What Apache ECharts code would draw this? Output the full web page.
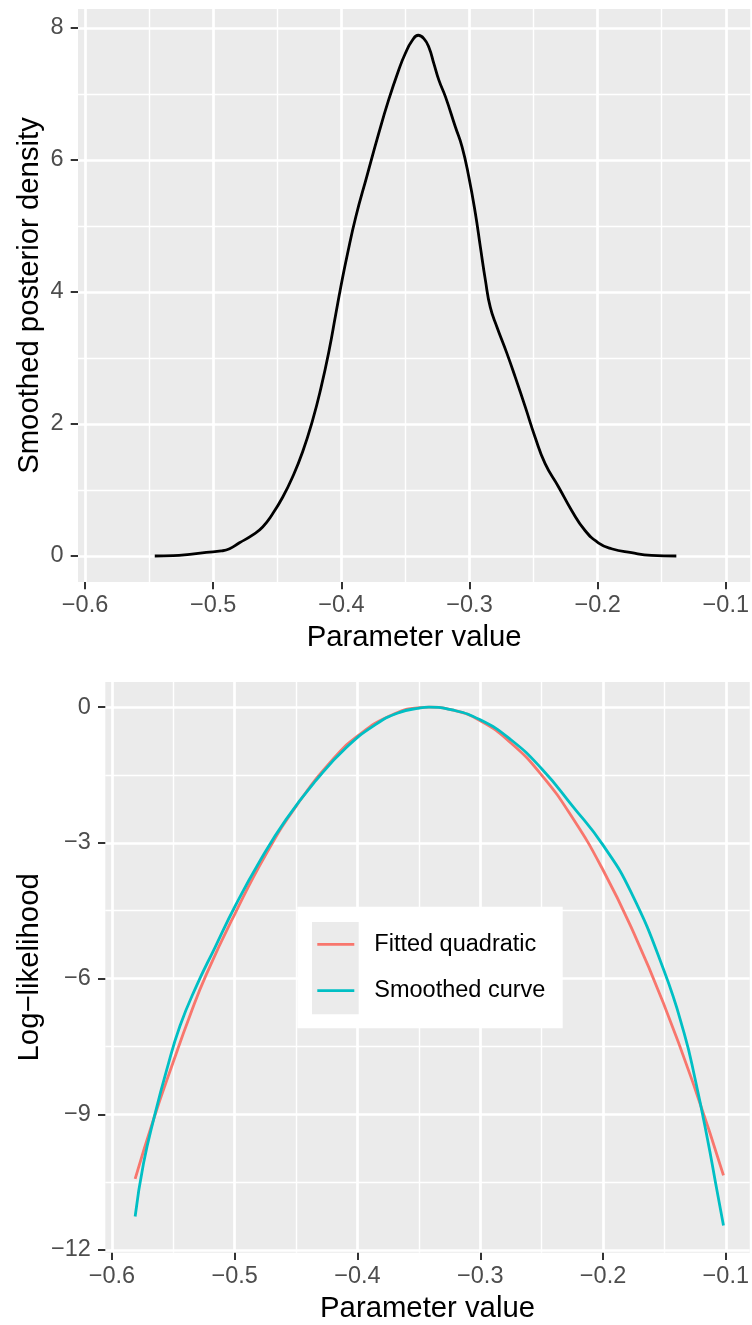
<!DOCTYPE html>
<html>
<head>
<meta charset="utf-8">
<script src="https://cdn.jsdelivr.net/npm/echarts@6/dist/echarts.min.js"></script>
<style>
  html, body { margin: 0; padding: 0; background: #ffffff; }
  #chart { width: 752px; height: 1325px; }
</style>
</head>
<body>
<div id="chart"></div>
<script>
// ---------- data ----------
const densityX = [-0.5456, -0.5313, -0.5183, -0.5054, -0.4937, -0.4872, -0.4795, -0.4691, -0.4614, -0.4536,
  -0.4458, -0.4380, -0.4302, -0.4224, -0.4160, -0.4095, -0.4043, -0.4004, -0.3952, -0.3887,
  -0.3800, -0.3709, -0.3631, -0.3553, -0.3502, -0.3447, -0.3400, -0.3356, -0.3317, -0.3278,
  -0.3239, -0.3188, -0.3110, -0.3058, -0.3006, -0.2954, -0.2915, -0.2876, -0.2838, -0.2786,
  -0.2708, -0.2643, -0.2565, -0.2488, -0.2410, -0.2306, -0.2203, -0.2100, -0.1995, -0.1892,
  -0.1736, -0.1580, -0.1386];
const densityY = [0.000, 0.005, 0.026, 0.056, 0.076, 0.110, 0.200, 0.320, 0.440, 0.640,
  0.890, 1.200, 1.580, 2.060, 2.540, 3.120, 3.670, 4.080, 4.580, 5.140,
  5.760, 6.400, 6.910, 7.360, 7.610, 7.810, 7.890, 7.840, 7.710, 7.460,
  7.210, 6.960, 6.500, 6.200, 5.750, 5.190, 4.680, 4.180, 3.770, 3.470,
  3.070, 2.710, 2.260, 1.800, 1.400, 1.050, 0.690, 0.390, 0.200, 0.110,
  0.050, 0.010, 0.000];

const quadX = [-0.5811, -0.5662, -0.5500, -0.5365, -0.5230, -0.4995, -0.4743, -0.4495, -0.4203, -0.3995,
  -0.3743, -0.3495, -0.3410, -0.3230, -0.3000, -0.2750, -0.2500, -0.2250, -0.2000, -0.1750,
  -0.1500, -0.1250, -0.1019];
const quadY = [-10.43, -9.12, -7.84, -6.82, -5.90, -4.55, -3.24, -2.17, -1.16, -0.63,
  -0.20, -0.01, 0.00, -0.06, -0.30, -0.79, -1.50, -2.44, -3.60, -4.99,
  -6.60, -8.44, -10.35];

const smoothX = [-0.5811, -0.5743, -0.5649, -0.5554, -0.5446, -0.5311, -0.5162, -0.4995, -0.4797, -0.4581,
  -0.4338, -0.4095, -0.3851, -0.3662, -0.3495, -0.3420, -0.3230, -0.3000, -0.2750, -0.2500,
  -0.2250, -0.2000, -0.1770, -0.1500, -0.1340, -0.1250, -0.1149, -0.1081, -0.1019];
const smoothY = [-11.26, -10.09, -8.99, -8.02, -7.05, -6.16, -5.32, -4.39, -3.41, -2.48,
  -1.62, -0.90, -0.38, -0.12, -0.02, 0.00, -0.06, -0.28, -0.72, -1.36,
  -2.18, -3.05, -4.10, -5.85, -7.20, -8.22, -9.55, -10.55, -11.46];

const seriesNames = ['Fitted quadratic', 'Smoothed curve'];

const xTicks = [-0.6, -0.5, -0.4, -0.3, -0.2, -0.1];
const xMinorTicks = [-0.55, -0.45, -0.35, -0.25, -0.15];
const topYTicks = [0, 2, 4, 6, 8];
const topYMinorTicks = [1, 3, 5, 7];
const botYTicks = [0, -3, -6, -9, -12];
const botYMinorTicks = [-1.5, -4.5, -7.5, -10.5];

const topXRange = [-0.6055, -0.0809];
const topYRange = [-0.394, 8.288];
const botXRange = [-0.6054, -0.0805];
const botYRange = [-12.06, 0.557];

// ---------- styles ----------
const FONT = "'Liberation Sans', Arial, Helvetica, sans-serif";
const RED = '#F8766D';
const CYAN = '#00BFC4';
const PANEL = '#EBEBEB';
const TICK_FS = 23.5;
const TITLE_FS = 29.3;

const zip = (xs, ys) => xs.map((x, i) => [x, ys[i]]);
const minusFmt = (digits) => (v) => (v < 0 ? '\u2212' : '') + Math.abs(v).toFixed(digits);

const tickStyle = (vals) => ({ show: true, inside: false, length: 7.3,
  lineStyle: { color: '#333333', width: 2 }, customValues: vals });

function mainAxis(opts) {
  return Object.assign({
    type: 'value',
    nameLocation: 'middle',
    nameMoveOverlap: false,
    nameTextStyle: { fontFamily: FONT, fontSize: TITLE_FS, color: '#000000' },
    axisLine: { show: false, onZero: false },
    splitLine: { show: true, lineStyle: { color: '#FFFFFF', width: 2.7 } },
    minorSplitLine: { show: false }
  }, opts);
}
function minorAxis(opts) {
  return Object.assign({
    type: 'value',
    axisLine: { show: false, onZero: false },
    axisLabel: { show: false },
    splitLine: { show: true, lineStyle: { color: '#FFFFFF', width: 1.4 } }
  }, opts);
}
const labelStyle = (margin, fmt, vals) => ({
  show: true, margin: margin, fontFamily: FONT, fontSize: TICK_FS, color: '#4D4D4D',
  formatter: fmt, customValues: vals, showMinLabel: true, showMaxLabel: true
});

const chart = echarts.init(document.getElementById('chart'), null, { renderer: 'canvas' });

const option = {
  animation: false,
  backgroundColor: '#FFFFFF',
  grid: [
    { left: 78, top: 9, width: 674, height: 573, show: true, backgroundColor: PANEL, borderWidth: 0 },
    { left: 105.3, top: 682, width: 646.7, height: 570.7, show: true, backgroundColor: PANEL, borderWidth: 0 }
  ],
  xAxis: [
    mainAxis({
      gridIndex: 0, position: 'bottom', min: topXRange[0], max: topXRange[1],
      name: 'Parameter value', nameGap: 41,
      axisTick: tickStyle(xTicks),
      axisLabel: labelStyle(11.5, minusFmt(1), xTicks)
    }),
    minorAxis({ gridIndex: 0, position: 'top', min: topXRange[0], max: topXRange[1],
      axisTick: { show: false, customValues: xMinorTicks } }),
    mainAxis({
      gridIndex: 1, position: 'bottom', min: botXRange[0], max: botXRange[1],
      name: 'Parameter value', nameGap: 42,
      axisTick: tickStyle(xTicks),
      axisLabel: labelStyle(12, minusFmt(1), xTicks)
    }),
    minorAxis({ gridIndex: 1, position: 'top', min: botXRange[0], max: botXRange[1],
      axisTick: { show: false, customValues: xMinorTicks } })
  ],
  yAxis: [
    mainAxis({
      gridIndex: 0, position: 'left', min: topYRange[0], max: topYRange[1],
      name: 'Smoothed posterior density', nameGap: 33.5, nameRotate: 90,
      axisTick: tickStyle(topYTicks),
      axisLabel: labelStyle(14.5, minusFmt(0), topYTicks)
    }),
    minorAxis({ gridIndex: 0, position: 'right', min: topYRange[0], max: topYRange[1],
      axisTick: { show: false, customValues: topYMinorTicks } }),
    mainAxis({
      gridIndex: 1, position: 'left', min: botYRange[0], max: botYRange[1],
      name: 'Log\u2212likelihood', nameGap: 60.8, nameRotate: 90,
      axisTick: tickStyle(botYTicks),
      axisLabel: labelStyle(14.5, minusFmt(0), botYTicks)
    }),
    minorAxis({ gridIndex: 1, position: 'right', min: botYRange[0], max: botYRange[1],
      axisTick: { show: false, customValues: botYMinorTicks } })
  ],
  legend: {
    data: seriesNames,
    orient: 'vertical',
    left: 317.3,
    top: 932.3,
    padding: 0,
    itemWidth: 37,
    itemHeight: 2.8,
    itemGap: 22.4,
    icon: 'rect',
    selectedMode: false,
    z: 10,
    textStyle: { fontFamily: FONT, fontSize: TICK_FS, color: '#000000', lineHeight: 24, padding: [0, 0, 0, 15] }
  },
  graphic: [
    { type: 'rect', z: 5, silent: true, shape: { x: 297.3, y: 906.7, width: 265.4, height: 121.6 },
      style: { fill: '#FFFFFF' } },
    { type: 'rect', z: 6, silent: true, shape: { x: 312, y: 922, width: 46.7, height: 92.3 },
      style: { fill: PANEL } }
  ],
  series: [
    {
      name: 'density', type: 'line', xAxisIndex: 0, yAxisIndex: 0,
      data: zip(densityX, densityY), showSymbol: false, symbol: 'none',
      smooth: 0.5,
      lineStyle: { color: '#000000', width: 2.8 }, itemStyle: { color: '#000000' }, z: 3
    },
    {
      name: seriesNames[0], type: 'line', xAxisIndex: 2, yAxisIndex: 2,
      data: zip(quadX, quadY), showSymbol: false, symbol: 'none', smooth: 0.5,
      lineStyle: { color: RED, width: 2.8 }, itemStyle: { color: RED }, z: 3
    },
    {
      name: seriesNames[1], type: 'line', xAxisIndex: 2, yAxisIndex: 2,
      data: zip(smoothX, smoothY), showSymbol: false, symbol: 'none', smooth: 0.5,
      lineStyle: { color: CYAN, width: 2.8 }, itemStyle: { color: CYAN }, z: 4
    }
  ]
};
chart.setOption(option);
</script>
</body>
</html>
